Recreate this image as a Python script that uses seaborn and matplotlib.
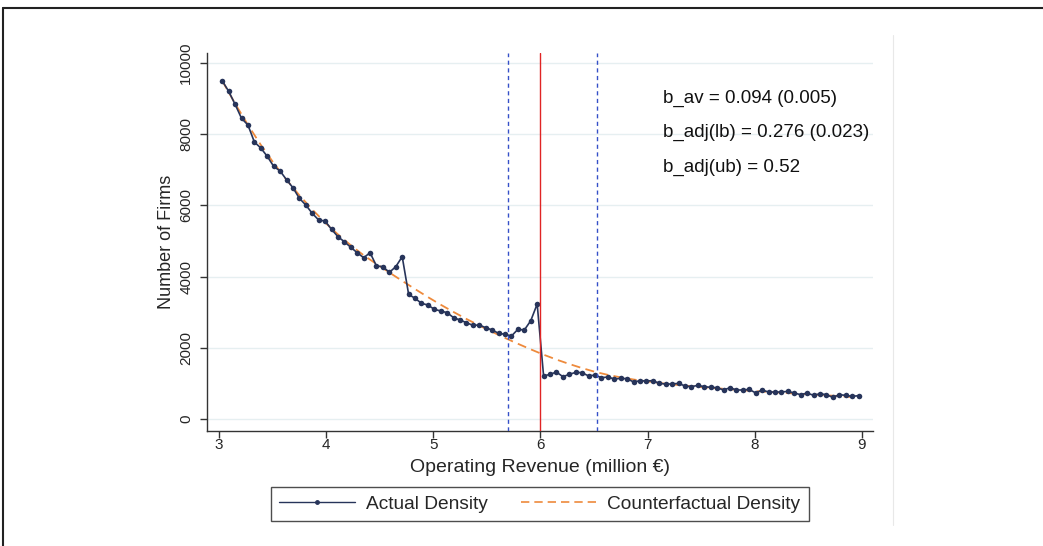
import numpy as np
import matplotlib
matplotlib.use("Agg")
import matplotlib.pyplot as plt
import seaborn as sns
from matplotlib.lines import Line2D

# bin centres (million EUR) and number of firms
revenue = [3.03, 3.09, 3.15, 3.21, 3.27, 3.33, 3.39, 3.45, 3.51, 3.57,
           3.63, 3.69, 3.75, 3.81, 3.87, 3.93, 3.99, 4.05, 4.11, 4.17,
           4.23, 4.29, 4.35, 4.41, 4.47, 4.53, 4.59, 4.65, 4.71, 4.77,
           4.83, 4.89, 4.95, 5.01, 5.07, 5.13, 5.19, 5.25, 5.31, 5.37,
           5.43, 5.49, 5.55, 5.61, 5.67, 5.73, 5.79, 5.85, 5.91, 5.97,
           6.03, 6.09, 6.15, 6.21, 6.27, 6.33, 6.39, 6.45, 6.51, 6.57,
           6.63, 6.69, 6.75, 6.81, 6.87, 6.93, 6.99, 7.05, 7.11, 7.17,
           7.23, 7.29, 7.35, 7.41, 7.47, 7.53, 7.59, 7.65, 7.71, 7.77,
           7.83, 7.89, 7.95, 8.01, 8.07, 8.13, 8.19, 8.25, 8.31, 8.37,
           8.43, 8.49, 8.55, 8.61, 8.67, 8.73, 8.79, 8.85, 8.91, 8.97]
firms = [9500, 9205, 8840, 8446, 8258, 7781, 7612, 7379, 7098, 6966,
         6722, 6497, 6199, 6011, 5778, 5590, 5562, 5329, 5121, 4980,
         4823, 4671, 4531, 4671, 4298, 4279, 4120, 4279, 4560, 3502,
         3390, 3250, 3202, 3081, 3034, 2986, 2846, 2781, 2705, 2632,
         2640, 2565, 2500, 2407, 2379, 2331, 2520, 2500, 2761, 3230,
         1208, 1255, 1320, 1189, 1255, 1311, 1301, 1208, 1236, 1161,
         1180, 1124, 1142, 1133, 1039, 1077, 1068, 1077, 1002, 983,
         983, 1002, 927, 908, 946, 908, 890, 880, 815, 880,
         815, 815, 834, 730, 815, 758, 758, 758, 777, 730,
         683, 730, 665, 711, 683, 609, 683, 665, 637, 655]

cf_revenue = [3.03, 3.15, 3.27, 3.39, 3.51, 3.63, 3.75, 3.87, 3.99, 4.11,
              4.23, 4.35, 4.47, 4.59, 4.71, 4.83, 4.95, 5.07, 5.19, 5.31,
              5.43, 5.55, 5.67, 5.79, 5.91, 6.03, 6.15, 6.27, 6.39, 6.51,
              6.63, 6.75, 6.87, 6.99, 7.11, 7.23, 7.35, 7.47, 7.59, 7.71,
              7.83, 7.95, 8.07, 8.19, 8.31, 8.43, 8.55, 8.67, 8.79, 8.99]
cf_firms = [9500, 8860, 8260, 7700, 7190, 6720, 6285, 5885, 5520, 5185,
            4880, 4600, 4355, 4115, 3880, 3650, 3425, 3210, 3005, 2810,
            2625, 2447, 2277, 2114, 1957, 1807, 1670, 1545, 1430, 1325,
            1240, 1170, 1110, 1058, 1012, 972, 937, 905, 876, 850,
            822, 795, 772, 750, 728, 707, 686, 665, 644, 600]

threshold = 6.0
window = [5.70, 6.53]
notes = ["b_av = 0.094 (0.005)", "b_adj(lb) = 0.276 (0.023)", "b_adj(ub) = 0.52"]

sns.set_theme(style="white")
plt.rcParams['font.family'] = ['Liberation Sans', 'DejaVu Sans']

navy = '#27345a'
orange = '#ee8a3c'

fig = plt.figure(figsize=(10.43, 5.46), dpi=100)
ax = fig.add_axes([0.1985, 0.2106, 0.6385, 0.6923])

sns.lineplot(x=cf_revenue, y=cf_firms, ax=ax, color=orange, lw=1.3,
             linestyle=(0, (5, 3)), zorder=2)
sns.lineplot(x=revenue, y=firms, ax=ax, color=navy, lw=1.2, marker='o',
             markersize=4, markeredgewidth=0, zorder=3)

ax.axvline(threshold, color='#e02424', lw=1.0, zorder=4)
for w in window:
    ax.axvline(w, color='#3550c8', lw=1.0, linestyle=(0, (3, 2.5)), zorder=4)

ax.set_xlim(2.888, 9.105)
ax.set_ylim(-337, 10281)
ax.set_xticks([3, 4, 5, 6, 7, 8, 9])
ax.set_yticks([0, 2000, 4000, 6000, 8000, 10000])
ax.set_yticklabels(['0', '2000', '4000', '6000', '8000', '10000'],
                   rotation=90, va='center')
ax.yaxis.grid(True, color='#e6eff1', lw=1.0)
ax.set_axisbelow(True)
ax.tick_params(axis='both', direction='out', length=5, width=1,
               color='#333333', labelsize=11, bottom=True, left=True)
ax.tick_params(axis='x', pad=0)
ax.tick_params(axis='y', pad=5)
for s in ['top', 'right']:
    ax.spines[s].set_visible(False)
for s in ['left', 'bottom']:
    ax.spines[s].set_color('#333333')
    ax.spines[s].set_linewidth(1.0)

ax.set_xlabel('Operating Revenue (million €)', fontsize=14, labelpad=5)
ax.set_ylabel('Number of Firms', fontsize=13, labelpad=3)

for i, t in enumerate(notes):
    ax.text(0.685, 0.881 - i * 0.0913, t, transform=ax.transAxes,
            fontsize=13.5, va='center', ha='left', color='#111111')

handles = [Line2D([], [], color=navy, lw=1.0, marker='o', markersize=2.5),
           Line2D([], [], color=orange, lw=1.2, linestyle=(0, (5, 3)))]
leg = fig.legend(handles, ['Actual Density', 'Counterfactual Density'],
                 loc='center', bbox_to_anchor=(0.5177, 0.0769), ncol=2,
                 fontsize=13.8, handlelength=3.95, columnspacing=1.75,
                 numpoints=1, frameon=True, fancybox=False,
                 borderpad=0.45, handletextpad=0.55)
leg.get_frame().set_edgecolor('#222222')
leg.get_frame().set_linewidth(1.0)

# outer graph frame
fig.add_artist(Line2D([3 / 1043, 1], [1 - 8 / 546, 1 - 8 / 546],
                      transform=fig.transFigure, color='#222222', lw=1.5))
fig.add_artist(Line2D([3 / 1043, 3 / 1043], [0, 1 - 8 / 546],
                      transform=fig.transFigure, color='#222222', lw=1.5))
fig.add_artist(Line2D([893 / 1043, 893 / 1043], [1 - 35 / 546, 1 - 525 / 546],
                      transform=fig.transFigure, color='#e8e8e8', lw=0.8))

fig.savefig('out.png', dpi=100)
